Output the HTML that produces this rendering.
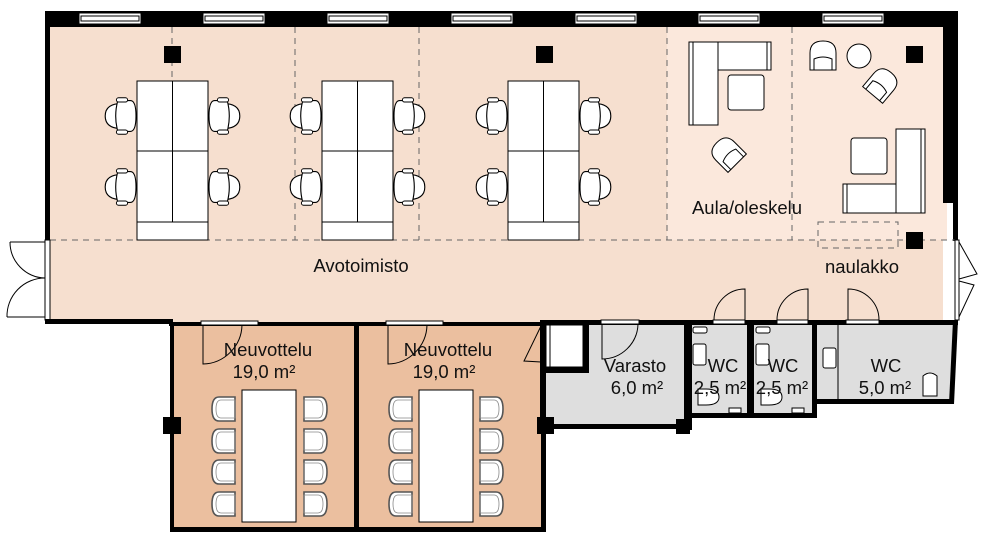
<!DOCTYPE html>
<html><head><meta charset="utf-8"><style>
html,body{margin:0;padding:0;background:#fff;}
svg{display:block;}
text{font-family:"Liberation Sans",Arial,sans-serif;fill:#111;}
</style></head><body>
<svg width="984" height="544" viewBox="0 0 984 544" xmlns="http://www.w3.org/2000/svg">
<defs>
<g id="chairL"><path d="M0,-9 Q-12,-9 -12,0 Q-12,9 0,9 L8,9 L8,-9 Z" fill="#fff" stroke="#000" stroke-width=".8"/><path d="M-3,-11 L6,-11 Q10,-11 10,0 Q10,11 6,11 L-3,11 Q-6,0 -3,-11 Z" fill="#fff" stroke="#000" stroke-width=".8"/><rect x="-4" y="-13" width="8" height="3" rx="1.5" fill="#fff" stroke="#000" stroke-width=".7"/><rect x="-4" y="10" width="8" height="3" rx="1.5" fill="#fff" stroke="#000" stroke-width=".7"/></g>
<g id="mchair"><path d="M-6,-12 L10,-12 L10,12 L-6,12 Q-13,12 -13,0 Q-13,-12 -6,-12 Z" fill="#fff" stroke="#555" stroke-width="1.6"/><path d="M-4,-9 L10,-9 L10,9 L-4,9 Q-9,9 -9,0 Q-9,-9 -4,-9 Z" fill="none" stroke="#888" stroke-width=".8"/></g>
<g id="lchair"><path d="M-13,13 L-13,-4 Q-13,-16 0,-16 Q13,-16 13,-4 L13,13 Z" fill="#fff" stroke="#000" stroke-width="1"/><path d="M-9,13 L-9,2 Q0,-2 9,2 L9,13" fill="none" stroke="#000" stroke-width="1"/></g>
</defs>

<rect x="50" y="27" width="893" height="295" fill="#f6dfcf"/>
<rect x="667" y="27" width="280" height="213" fill="#fbe8dc"/>
<rect x="172" y="324" width="370" height="205" fill="#ebbf9f"/>
<rect x="546" y="324" width="138" height="101" fill="#dedede"/>
<rect x="692" y="324" width="58" height="90" fill="#dedede"/>
<rect x="754" y="324" width="60" height="90" fill="#dedede"/>
<polygon points="817,324 954,324 950,400 817,400" fill="#dedede"/>

<rect x="45" y="11" width="913" height="16" fill="#000"/>
<g fill="#fff" stroke="#000" stroke-width="1">
<rect x="79" y="13" width="62" height="11"/><rect x="203" y="13" width="62" height="11"/><rect x="327" y="13" width="62" height="11"/><rect x="451" y="13" width="62" height="11"/><rect x="575" y="13" width="62" height="11"/><rect x="698" y="13" width="62" height="11"/><rect x="822" y="13" width="62" height="11"/>
</g>
<g fill="none" stroke="#000" stroke-width="1">
<rect x="81" y="16" width="58" height="5"/><rect x="205" y="16" width="58" height="5"/><rect x="329" y="16" width="58" height="5"/><rect x="453" y="16" width="58" height="5"/><rect x="577" y="16" width="58" height="5"/><rect x="700" y="16" width="58" height="5"/><rect x="824" y="16" width="58" height="5"/>
</g>
<rect x="45" y="11" width="5" height="229" fill="#000"/>
<rect x="943" y="11" width="15" height="192" fill="#000"/>
<rect x="953" y="203" width="5" height="38" fill="#000"/>

<g stroke="#666" stroke-width="1" stroke-dasharray="6,5" fill="none">
<line x1="50" y1="240" x2="955" y2="240"/>
<line x1="172" y1="27" x2="172" y2="240"/><line x1="295" y1="27" x2="295" y2="240"/><line x1="419" y1="27" x2="419" y2="240"/><line x1="667" y1="27" x2="667" y2="240"/><line x1="792" y1="27" x2="792" y2="240"/>
<rect x="818" y="222" width="80" height="26"/>
</g>

<g fill="#000">
<rect x="164" y="46" width="17" height="17"/><rect x="536" y="46" width="17" height="17"/><rect x="906" y="46" width="17" height="17"/><rect x="906" y="232" width="17" height="17"/>
<rect x="163" y="417" width="18" height="17"/><rect x="537" y="417" width="17" height="17"/><rect x="676" y="419" width="14" height="15"/>
</g>

<g fill="#fff" stroke="#000" stroke-width="1">
<rect x="137" y="81" width="71" height="159"/><rect x="322" y="81" width="71" height="159"/><rect x="508" y="81" width="71" height="159"/>
</g>
<g stroke="#000" stroke-width="1">
<line x1="172.5" y1="81" x2="172.5" y2="222"/><line x1="137" y1="151" x2="208" y2="151"/><line x1="137" y1="222" x2="208" y2="222"/>
<line x1="357.5" y1="81" x2="357.5" y2="222"/><line x1="322" y1="151" x2="393" y2="151"/><line x1="322" y1="222" x2="393" y2="222"/>
<line x1="543.5" y1="81" x2="543.5" y2="222"/><line x1="508" y1="151" x2="579" y2="151"/><line x1="508" y1="222" x2="579" y2="222"/>
</g>
<use href="#chairL" transform="translate(122,116) scale(1.4)"/><use href="#chairL" transform="translate(122,187) scale(1.4)"/>
<use href="#chairL" transform="translate(223,116) scale(-1.4,1.4)"/><use href="#chairL" transform="translate(223,187) scale(-1.4,1.4)"/>
<use href="#chairL" transform="translate(307,116) scale(1.4)"/><use href="#chairL" transform="translate(307,187) scale(1.4)"/>
<use href="#chairL" transform="translate(408,116) scale(-1.4,1.4)"/><use href="#chairL" transform="translate(408,187) scale(-1.4,1.4)"/>
<use href="#chairL" transform="translate(493,116) scale(1.4)"/><use href="#chairL" transform="translate(493,187) scale(1.4)"/>
<use href="#chairL" transform="translate(594,116) scale(-1.4,1.4)"/><use href="#chairL" transform="translate(594,187) scale(-1.4,1.4)"/>

<g fill="#fff" stroke="#000" stroke-width="1">
<rect x="689" y="42" width="29" height="83"/><line x1="693" y1="42" x2="693" y2="125"/>
<rect x="718" y="42" width="53" height="28"/><line x1="767" y1="42" x2="767" y2="70"/>
<rect x="728" y="75" width="36" height="35" rx="3"/>
<rect x="896" y="129" width="29" height="84"/><line x1="921" y1="129" x2="921" y2="213"/>
<rect x="843" y="184" width="53" height="29"/><line x1="847" y1="184" x2="847" y2="213"/>
<rect x="851" y="138" width="36" height="36" rx="3"/>
<circle cx="859" cy="56" r="12"/>
</g>
<use href="#lchair" transform="translate(823,57)"/>
<use href="#lchair" transform="translate(881,85) rotate(40)"/>
<use href="#lchair" transform="translate(728,154) rotate(-45)"/>

<rect x="45" y="240" width="5" height="80" fill="#fff" stroke="#000" stroke-width="1"/>
<g fill="none" stroke="#000" stroke-width="1">
<path d="M45,242 L10,242"/><path d="M10,242 A36,36 0 0 0 45,278"/>
<path d="M45,317 L7,317"/><path d="M7,317 A38,38 0 0 1 45,278"/>
</g>
<rect x="955" y="240" width="4" height="80" fill="#fff" stroke="#000" stroke-width="1"/>
<polyline points="959,242 977,274 959,279" fill="none" stroke="#000" stroke-width="1"/>
<polyline points="959,281 974,285 959,317" fill="none" stroke="#000" stroke-width="1"/>

<rect x="45" y="319" width="128" height="5" fill="#000"/>
<rect x="169" y="322" width="377" height="4" fill="#000"/>
<rect x="170" y="322" width="4" height="210" fill="#000"/>
<rect x="354" y="322" width="5" height="210" fill="#000"/>
<rect x="541" y="322" width="5" height="210" fill="#000"/>
<rect x="170" y="527" width="376" height="5" fill="#000"/>
<g fill="#fff" stroke="#000" stroke-width="1">
<rect x="201" y="321" width="57" height="4"/><rect x="386" y="321" width="57" height="4"/>
</g>
<g fill="none" stroke="#000" stroke-width="1">
<path d="M203,325 L203,364 A40,40 0 0 0 242,325"/>
<path d="M388,325 L388,364 A40,40 0 0 0 427,325"/>
<path d="M541,326 L524,361 L541,362"/>
</g>
<rect x="242" y="390" width="54" height="132" fill="#fff" stroke="#000" stroke-width="1"/>
<rect x="419" y="390" width="54" height="132" fill="#fff" stroke="#000" stroke-width="1"/>
<g>
<use href="#mchair" transform="translate(225,409)"/><use href="#mchair" transform="translate(225,441)"/><use href="#mchair" transform="translate(225,472)"/><use href="#mchair" transform="translate(225,504)"/>
<use href="#mchair" transform="translate(314,409) scale(-1,1)"/><use href="#mchair" transform="translate(314,441) scale(-1,1)"/><use href="#mchair" transform="translate(314,472) scale(-1,1)"/><use href="#mchair" transform="translate(314,504) scale(-1,1)"/>
<use href="#mchair" transform="translate(402,409)"/><use href="#mchair" transform="translate(402,441)"/><use href="#mchair" transform="translate(402,472)"/><use href="#mchair" transform="translate(402,504)"/>
<use href="#mchair" transform="translate(490,409) scale(-1,1)"/><use href="#mchair" transform="translate(490,441) scale(-1,1)"/><use href="#mchair" transform="translate(490,472) scale(-1,1)"/><use href="#mchair" transform="translate(490,504) scale(-1,1)"/>
</g>

<rect x="540" y="320" width="418" height="5" fill="#000"/>
<rect x="540" y="320" width="6" height="110" fill="#000"/>
<rect x="540" y="424" width="150" height="5" fill="#000"/>
<rect x="546" y="325" width="37" height="42" fill="#fff" stroke="#000" stroke-width="1"/>
<line x1="550" y1="325" x2="550" y2="367" stroke="#000"/>
<rect x="583" y="325" width="6" height="48" fill="#000"/>
<rect x="546" y="367" width="43" height="6" fill="#000"/>
<rect x="684" y="320" width="8" height="110" fill="#000"/>
<rect x="747" y="320" width="7" height="98" fill="#000"/>
<rect x="812" y="320" width="5" height="98" fill="#000"/>
<rect x="684" y="413" width="133" height="5" fill="#000"/>
<rect x="812" y="399" width="140" height="5" fill="#000"/>
<polygon points="953,320 958,320 954,404 949,404" fill="#000"/>
<line x1="838" y1="325" x2="838" y2="399" stroke="#000" stroke-width="1"/>
<g fill="#fff" stroke="#000" stroke-width="1">
<rect x="601" y="320" width="38" height="4"/><rect x="713" y="320" width="32" height="4"/><rect x="777" y="320" width="31" height="4"/><rect x="846" y="320" width="33" height="4"/>
</g>
<g fill="none" stroke="#000" stroke-width="1">
<path d="M602,324 L602,359 A36,36 0 0 0 638,324"/>
<path d="M745,320 L745,289 A31,31 0 0 0 714,320"/>
<path d="M808,320 L808,289 A31,31 0 0 0 777,320"/>
<path d="M848,320 L848,289 A31,31 0 0 1 879,320"/>
</g>
<g fill="#fff" stroke="#000" stroke-width="1">
<rect x="693" y="327" width="14" height="6" rx="2"/><rect x="756" y="327" width="14" height="6" rx="2"/>
<rect x="693" y="344" width="13" height="21" rx="2"/><rect x="756" y="344" width="13" height="21" rx="2"/>
<path d="M698,389 L706,389 Q719,389 719,397 Q719,405 706,405 L698,405 Z"/>
<path d="M761,389 L769,389 Q782,389 782,397 Q782,405 769,405 L761,405 Z"/>
<rect x="729" y="408" width="12" height="5"/><rect x="792" y="408" width="12" height="5"/>
<rect x="823" y="348" width="13" height="20" rx="2"/>
<path d="M923,396 L923,376 Q930,370 937,376 L937,396 Z"/>
</g>

<g font-size="18.5">
<text x="361" y="272" text-anchor="middle">Avotoimisto</text>
<text x="747" y="214" text-anchor="middle">Aula/oleskelu</text>
<text x="862" y="273" text-anchor="middle">naulakko</text>
<text x="268" y="356" text-anchor="middle">Neuvottelu</text>
<text x="264" y="378" text-anchor="middle">19,0 m²</text>
<text x="448" y="356" text-anchor="middle">Neuvottelu</text>
<text x="444" y="378" text-anchor="middle">19,0 m²</text>
<text x="635" y="372" text-anchor="middle">Varasto</text>
<text x="637" y="394" text-anchor="middle">6,0 m²</text>
<text x="723" y="372" text-anchor="middle">WC</text>
<text x="720" y="394" text-anchor="middle">2,5 m²</text>
<text x="783" y="372" text-anchor="middle">WC</text>
<text x="782" y="394" text-anchor="middle">2,5 m²</text>
<text x="886" y="372" text-anchor="middle">WC</text>
<text x="885" y="394" text-anchor="middle">5,0 m²</text>
</g>
</svg>
</body></html>
